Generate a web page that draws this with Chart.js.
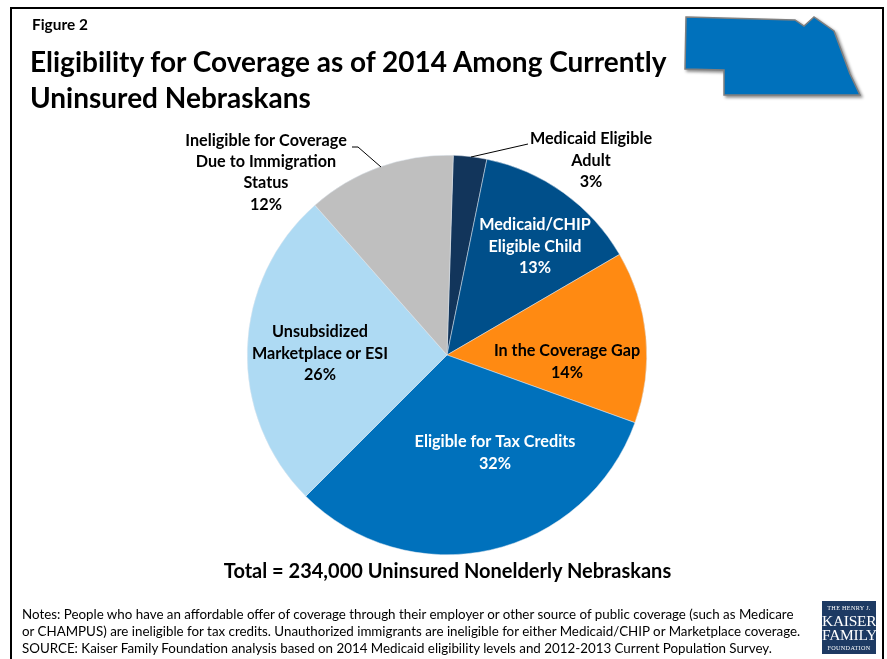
<!DOCTYPE html>
<html>
<head>
<meta charset="utf-8">
<script src="https://cdn.jsdelivr.net/npm/chart.js@4"></script>
<style>
  html, body { margin: 0; padding: 0; background: #fff; }
  body { width: 887px; height: 659px; position: relative; overflow: hidden; font-family: Lato, "Open Sans", sans-serif; color: #000; }
  #frame { position: absolute; left: 10px; top: 7px; width: 870px; height: 660px; border: 2px solid #000; }
  #resultsChart { position: absolute; left: 0; top: 0; }
  .abs { position: absolute; white-space: nowrap; }
  #figure { left: 32px; top: 15px; font-size: 15.4px; font-weight: 700; }
  #title { left: 30px; top: 44px; font-size: 28px; font-weight: 700; line-height: 35.5px; }
  #total { left: 0; width: 895px; text-align: center; top: 558px; font-size: 20px; font-weight: 700; }
  #notes { left: 22px; top: 606px; font-size: 13.35px; line-height: 17.2px; }
  #map { position: absolute; left: 680px; top: 12px; filter: drop-shadow(2px 2px 1.5px rgba(0,0,0,0.45)); }
  #logo { position: absolute; left: 822px; top: 601px; width: 54px; height: 53px; background: #1d3a63; color: #fff; font-family: "Liberation Serif", serif; text-align: center; }
  #logo div { position: absolute; left: 0; width: 100%; line-height: 14px; }
  .small { font-size: 6.2px; letter-spacing: 0.3px; }
  .big { font-size: 15.5px; letter-spacing: -0.3px; }
</style>
</head>
<body>
<div id="frame"></div>
<canvas id="resultsChart" width="887" height="659"></canvas>
<svg id="map" width="200" height="95" viewBox="0 0 200 95">
  <polygon points="6,5 115,8 124,14 134,5 154,19 170,62 180,83 44,83 44,58 5,57" fill="#0071bc" stroke="#7f7f7f" stroke-width="1.5"/>
</svg>
<div id="figure" class="abs">Figure 2</div>
<div id="title" class="abs">Eligibility for Coverage as of 2014 Among Currently<br>Uninsured Nebraskans</div>
<div id="total" class="abs">Total = 234,000 Uninsured Nonelderly Nebraskans</div>
<div id="notes" class="abs">Notes: People who have an affordable offer of coverage through their employer or other source of public coverage (such as Medicare<br>or CHAMPUS) are ineligible for tax credits. Unauthorized immigrants are ineligible for either Medicaid/CHIP or Marketplace coverage.<br>SOURCE: Kaiser Family Foundation analysis based on 2014 Medicaid eligibility levels and 2012-2013 Current Population Survey.</div>
<div id="logo">
  <div class="small" style="top:0px">THE HENRY J.</div>
  <div class="big" style="top:13px">KAISER</div>
  <div class="big" style="top:27px">FAMILY</div>
  <div class="small" style="top:40px">FOUNDATION</div>
</div>
<script>
const categories = [
  ['Medicaid Eligible', 'Adult'],
  ['Medicaid/CHIP', 'Eligible Child'],
  ['In the Coverage Gap'],
  ['Eligible for Tax Credits'],
  ['Unsubsidized', 'Marketplace or ESI'],
  ['Ineligible for Coverage', 'Due to Immigration', 'Status']
];
// slice sizes as measured on the pie, they round to the printed percentages
const shares = [2.7, 13.4, 13.9, 32, 26, 12];
const sliceColors = ['#12355b', '#004f8a', '#ff8a12', '#0071bc', '#aedaf3', '#bfbfbf'];
const labelColors = ['#000', '#fff', '#000', '#fff', '#000', '#000'];

// label anchor (centre of the first line) and optional leader line, by slice
const labelSpots = [
  { x: 591, y: 139, leader: [[528, 144], [471, 157]] },
  { x: 535, y: 225 },
  { x: 567, y: 351 },
  { x: 495, y: 442 },
  { x: 320, y: 332 },
  { x: 266, y: 140.5, leader: [[352, 147], [358, 147], [381, 167]] }
];

const sliceLabels = {
  id: 'sliceLabels',
  afterDatasetsDraw(chart) {
    const c = chart.ctx;
    c.save();
    c.font = '700 16.2px Lato, sans-serif';
    c.textAlign = 'center';
    c.textBaseline = 'middle';
    labelSpots.forEach((spot, i) => {
      c.fillStyle = labelColors[i];
      const lines = categories[i].concat(Math.round(shares[i]) + '%');
      lines.forEach((line, n) => c.fillText(line, spot.x, spot.y + n * 21.3));
      if (spot.leader) {
        c.strokeStyle = '#000';
        c.lineWidth = 1;
        c.beginPath();
        spot.leader.forEach((p, n) => n ? c.lineTo(p[0], p[1]) : c.moveTo(p[0], p[1]));
        c.stroke();
      }
    });
    c.restore();
  }
};

const ctx = document.getElementById('resultsChart').getContext('2d');
new Chart(ctx, {
  type: 'pie',
  data: {
    labels: categories.map(c => c.join(' ')),
    datasets: [{
      data: shares,
      backgroundColor: sliceColors,
      borderColor: '#dfe6ee',
      borderWidth: 0.5
    }]
  },
  options: {
    responsive: false,
    animation: false,
    rotation: 1.8,
    layout: { padding: { left: 247, right: 240, top: 155, bottom: 104 } },
    plugins: { legend: { display: false }, tooltip: { enabled: false } }
  },
  plugins: [sliceLabels]
});
</script>
</body>
</html>
